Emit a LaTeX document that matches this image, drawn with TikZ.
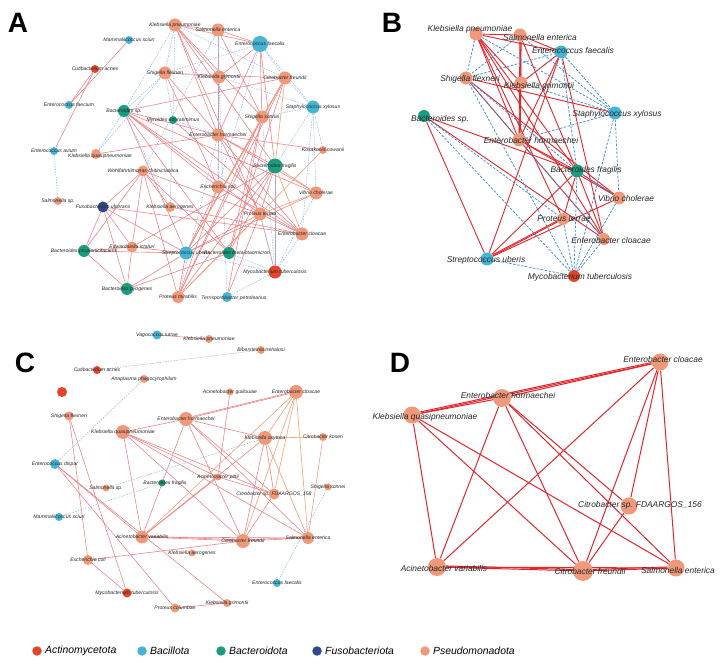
\documentclass[tikz,border=0pt]{standalone}
\usepackage{fontspec}
\setmainfont{Liberation Sans}
\definecolor{cPs}{HTML}{F0997A}
\definecolor{cBa}{HTML}{45B5D6}
\definecolor{cBt}{HTML}{1B9C7E}
\definecolor{cFu}{HTML}{2F4A8A}
\definecolor{cAc}{HTML}{E5442B}
\definecolor{eRed}{HTML}{E3262C}
\definecolor{eRedL}{HTML}{F07C80}
\definecolor{eBlue}{HTML}{3D8ED2}
\definecolor{eBlueL}{HTML}{93C0E6}
\definecolor{eOr}{HTML}{F2A078}
\definecolor{txt}{HTML}{262626}
\pgfdeclarelayer{bgl}
\pgfdeclarelayer{edges}
\pgfsetlayers{bgl,edges,main}
\tikzset{
 bug/.style={circle, inner sep=0pt, draw=none},
 lblS/.style={inner sep=0pt, text=txt, font=\fontsize{5.1}{6}\selectfont\itshape},
 lblL/.style={inner sep=0pt, text=txt, font=\fontsize{8.4}{10}\selectfont\itshape},
 lblG/.style={inner sep=0pt, anchor=west, text=black, font=\fontsize{10.4}{12}\selectfont\itshape},
 panel/.style={inner sep=0pt, font=\fontsize{28}{30}\selectfont\bfseries},
 redA/.style={draw=eRedL, line width=0.55pt},
 orA/.style={draw=eOr, line width=0.6pt},
 blueA/.style={draw=eBlueL, line width=0.55pt, dash pattern=on 1.5pt off 1.2pt},
 redB/.style={draw=eRed, line width=0.9pt},
 blueB/.style={draw=eBlue, line width=0.75pt, dash pattern=on 2.5pt off 1.5pt},
 redD/.style={draw=eRed, line width=1pt},
}
\begin{document}
\begin{tikzpicture}[x=1pt,y=-1pt]
\begin{pgfonlayer}{bgl}\fill[white] (0,0) rectangle (724,668);\end{pgfonlayer}
\useasboundingbox (0,0) rectangle (724,668);

% ---------------- panel letters
\node[panel] (pA) at (18,23) {A};
\node[panel] (pB) at (392,23) {B};
\node[panel] (pC) at (25,363) {C};
\node[panel] (pD) at (400,363) {D};

% ---------------- Panel A nodes
\foreach \nm/\px/\py/\dd/\col in {
 akp/175/25/13/cPs, ase/218/30/13/cPs, aef/260/44/16/cBa, ams/129/40/8/cBa,
 aca/95/69/8/cAc, asf/165/73/13/cPs, akg/219/77/13/cPs, acf/285/78/13/cPs,
 aefm/69/105/8/cBa, abs/124/111/12/cBt, amo/173/120/8/cBt, asx/313/107/13/cBa,
 ass/262/117/13/cPs, aeh/218/135/13/cPs, akc/323/150/8/cPs, aea/54/151/8/cBa,
 akq/96/154/10/cPs, abf/275/166/15/cBt, awc/143/171/11/cPs, avc/316/193/13/cPs,
 aec/218/187/13/cPs, assp/58/201/8/cPs, afu/103/207/11/cFu, aka/170/207/10/cPs,
 apt/260/214/13/cPs, aecl/302/234/13/cPs, aei/132/247/11/cPs, abp/84/251/12/cBt,
 asu/186/253/13/cBa, abt/229/253/12/cBt, amt/275/272/13/cAc, abpy/127/289/12/cBt,
 apm/178/297/12/cPs, atp/227/297/10/cBa}
 \node[bug, fill=\col, minimum size=\dd pt] (\nm) at (\px,\py) {};

% ---------------- Panel B nodes
\foreach \nm/\px/\py/\dd/\col in {
 bkp/476/34/13/cPs, bse/520/35/13/cPs, bef/561/52/13/cBa, bsf/466/78/13/cPs,
 bkg/521/83/13/cPs, bsx/615/113/13/cBa, bbs/424/116/12/cBt, beh/519/140/13/cPs,
 bbf/577/171/13/cBt, bvc/619/198/13/cPs, bpt/563/219/12/cPs, bec/604/239/12/cPs,
 bsu/487/259/13/cBa, bmt/574/276/12/cAc}
 \node[bug, fill=\col, minimum size=\dd pt] (\nm) at (\px,\py) {};

% ---------------- Panel C nodes
\foreach \nm/\px/\py/\dd/\col in {
 cvl/157/335/9/cBa, ckp/209/339/8/cPs, cbt/261/350/8/cPs, cca/97/370/8/cAc,
 cap/144/379/8/cPs, cred/62/392/10/cAc, csf/69/416/9/cPs, ckq/123/432/14/cPs,
 ced/55/464/10/cBa, cag/230/392/7/cPs, cecl/296/392/14/cPs, ceh/186/419/14/cPs,
 cko/265/438/14/cPs, cck/323/437/8/cPs, capi/218/477/7/cPs, cbf/162/483/7/cBt,
 cssp/106/488/7/cPs, cms/59/517/8/cBa, cav/142/537/13/cPs, cec/88/560/10/cPs,
 cmt/127/593/9/cAc, cpc/175/608/9/cPs, ccs/274/494/11/cPs, css/328/487/7/cPs,
 ccf/243/541/14/cPs, cse/308/538/12/cPs, cka/192/553/7/cPs, cef/277/583/8/cBa,
 ckg/227/603/8/cPs}
 \node[bug, fill=\col, minimum size=\dd pt] (\nm) at (\px,\py) {};

% ---------------- Panel D nodes
\foreach \nm/\px/\py/\dd/\col in {
 dec/660/362/17/cPs, deh/502/398/18/cPs, dkq/412/415/17/cPs, dcs/629/506/17/cPs,
 dav/437/567/18/cPs, dcf/583/571/20/cPs, dse/676/568/17/cPs}
 \node[bug, fill=\col, minimum size=\dd pt] (\nm) at (\px,\py) {};

% ---------------- Edges
\begin{pgfonlayer}{edges}
% A red
\foreach \a/\b in {ams/aefm, aca/aefm, aca/aea,
 abs/acf, abs/aeh, abs/aec, abs/apt, abs/aecl, abs/asu, abs/abt, abs/avc,
 akq/aeh, akp/ase, akp/aef, akp/akg, akp/aeh, akp/ass, akp/abf, akp/apt,
 ase/akg, ase/aef, ase/aeh, ase/ass, aef/akg, aef/aeh, aef/ass, aef/abf,
 asf/acf, asf/aeh, asf/aec, akg/aeh, akg/aec, acf/asu, acf/abt, acf/apm,
 ass/asu, ass/abt, ass/apm, ass/atp, aeh/akc, aeh/abf, aeh/apt, aeh/aecl, aeh/avc,
 awc/afu, awc/abp, awc/aei, awc/aka, awc/apt, awc/apm, awc/abt,
 afu/abp, afu/aei, afu/abpy, afu/asu, afu/aecl,
 abp/aei, abp/abpy, abp/asu, aei/abpy, aei/asu, aei/abf, abpy/abt, abpy/asu,
 abf/amt, abf/apt, abf/asu, abf/apm, abf/abt,
 avc/asu, apt/asu, apt/aecl, apt/apm, amt/apt,
 aecl/aka, asu/apm, atp/apt, aec/apm, aec/asu, aec/aecl, amo/aecl}
 \draw[redA] (\a) -- (\b);
\foreach \a/\b in {acf/ass, abf/avc, abf/aecl, akc/apm, acf/abf, avc/apt, acf/asu}
 \draw[orA] (\a) -- (\b);
\foreach \a/\b in {akp/asf, akp/abs, akp/amo, akp/acf, asf/abs, asf/aef, asf/akg,
 akg/asx, aef/asx, aef/acf, acf/asx, asx/ass, asx/akc, asx/avc, asx/aecl, aea/assp,
 aeh/amo, abs/akq, akq/asf, abf/amt, aecl/amt, avc/amt, abt/amt, asu/amt, apt/amt,
 ase/aec, amo/aka, awc/ase, akg/atp, ass/amt, asx/abf, aef/aec, abs/aka, aeh/apm,
 asf/amo, atp/amt}
 \draw[blueA] (\a) -- (\b);

% B
\foreach \a/\b in {bkp/bse, bkp/bef, bkp/bkg, bkp/beh, bkp/bbf, bkp/bec, bkp/bpt,
 bse/bef, bse/bkg, bse/beh, bse/bbf, bef/bkg, bef/beh, bef/bec, bef/bsu,
 bsf/bsx, bsf/beh, bsf/bvc, bbs/bsu, bbs/bec, bbs/bbf,
 beh/bbf, beh/bvc, beh/bec, bbf/bsu, bbf/bpt, bbf/bvc, bbf/bec,
 bpt/bsu, bvc/bsu, bkg/beh}
 \draw[redB] (\a) -- (\b);
\draw[redB, transform canvas={yshift=1.2pt}] (bpt) -- (bsu);
\draw[redB, transform canvas={xshift=1.2pt}] (bse) -- (beh);
\foreach \a/\b in {bkp/bsf, bkp/bsx, bse/bsf, bsf/bef, bsf/bbf, bsf/bmt, bsf/bec,
 bef/bsx, bse/bsx, bsx/beh, bsx/bmt, bsx/bvc, bbs/bmt, bbs/bpt,
 bsu/bmt, bbf/bmt, bpt/bmt, bec/bmt, bvc/bmt, bbf/bvc, bkg/bsx, bef/bbf}
 \draw[blueB] (\a) -- (\b);

% C
\foreach \a/\b in {cvl/ckp, csf/cmt, csf/cec, ced/cav, ced/cpc, ced/ckg,
 cec/cmt, cec/ccf, ckq/ceh, ckq/cav, ckq/ccf, ckq/cse, ckq/ccs,
 ceh/cecl, ceh/cko, ceh/cav, ceh/ccf, ceh/cse, ceh/ccs, cag/capi,
 cko/ccf, cko/ccs, cko/cav, cav/ccf, cav/cse, ccf/cse, ccs/ccf, capi/cav, capi/ccs,
 cpc/ckg, ckq/capi}
 \draw[redA] (\a) -- (\b);
\draw[redA, transform canvas={yshift=1pt}] (ceh) -- (cecl);
\draw[redA, transform canvas={yshift=1pt}] (cav) -- (ccf);
\draw[redA, transform canvas={yshift=1pt}] (ccf) -- (cse);
\foreach \a/\b in {cecl/cko, cecl/ccs, cecl/cse, cecl/cav, cecl/ccf, cko/cck, cck/cse, cko/cse}
 \draw[orA] (\a) -- (\b);
\foreach \a/\b in {cca/cbt, cap/ced, cko/cssp, cbf/cms, css/cef}
 \draw[blueA] (\a) -- (\b);

% D
\foreach \a/\b in {dkq/deh, deh/dec, dkq/dec, dkq/dav, dkq/dcf, dkq/dse,
 deh/dav, deh/dcf, deh/dcs, deh/dse, dec/dav, dec/dcs, dec/dcf, dec/dse,
 dcs/dcf, dav/dcf, dav/dse, dcf/dse}
 \draw[redD] (\a) -- (\b);
\draw[redD, transform canvas={yshift=1.3pt}] (dkq) -- (dec);
\draw[redD, transform canvas={yshift=1.3pt}] (dav) -- (dcf);
\draw[redD, transform canvas={yshift=1.3pt}] (dcf) -- (dse);
\end{pgfonlayer}

% ---------------- Labels A
\foreach \nm/\tx in {akp/Klebsiella pneumoniae, ase/Salmonella enterica,
 aef/Enterococcus faecalis, ams/Mammaliicoccus sciuri, aca/Cutibacterium acnes,
 asf/Shigella flexneri, akg/Klebsiella grimontii, acf/Citrobacter freundii,
 aefm/Enterococcus faecium, abs/Bacteroides sp., amo/Myroides odoratimimus,
 asx/Staphylococcus xylosus, ass/Shigella sonnei, aeh/Enterobacter hormaechei,
 akc/Kosakonia cowanii, aea/Enterococcus avium,
 abf/Bacteroides fragilis, awc/Wohlfahrtiimonas chitiniclastica, avc/Vibrio cholerae,
 aec/Escherichia coli, assp/Salmonella sp., afu/Fusobacterium ulcerans,
 aka/Klebsiella aerogenes, apt/Proteus terrae, aecl/Enterobacter cloacae,
 aei/Edwardsiella ictaluri, abp/Bacteroides propionicifaciens, asu/Streptococcus uberis,
 amt/Mycobacterium tuberculosis,
 abpy/Bacteroides pyogenes, apm/Proteus mirabilis}
 \node[lblS] (\nm-t) at (\nm) {\tx};
\node[lblS] (akq-t) at (100,156) {Klebsiella quasipneumoniae};
\node[lblS] (abt-t) at (237,253) {Bacteroides thetaiotaomicron};
\node[lblS] (atp-t) at (234,298) {Terrisporobacter petrolearius};

% ---------------- Labels B
\foreach \nm/\px/\py/\tx in {bkp/470/29/Klebsiella pneumoniae, bse/540/38/Salmonella enterica,
 bef/573/51/Enterococcus faecalis, bsf/470/79/Shigella flexneri,
 bkg/539/86/Klebsiella grimontii, bsx/617/114/Staphylococcus xylosus,
 bbs/440/119/Bacteroides sp., beh/531/141/Enterobacter hormaechei,
 bbf/586/170/Bacteroides fragilis, bvc/626/199/Vibrio cholerae,
 bpt/564/219/Proteus terrae, bec/611/240/Enterobacter cloacae,
 bsu/486/260/Streptococcus uberis, bmt/580/277/Mycobacterium tuberculosis}
 \node[lblL] (\nm-t) at (\px,\py) {\tx};

% ---------------- Labels C
\foreach \nm/\tx in {cvl/Vagococcus lutrae, ckp/Klebsiella pneumoniae,
 cbt/Bibersteinia trehalosi, cca/Cutibacterium acnes, cap/Anaplasma phagocytophilum,
 csf/Shigella flexneri, ckq/Klebsiella quasipneumoniae, ced/Enterococcus dispar,
 cag/Acinetobacter guillouiae, cecl/Enterobacter cloacae, ceh/Enterobacter hormaechei,
 cko/Klebsiella oxytoca, cck/Citrobacter koseri, capi/Acinetobacter pittii,
 cssp/Salmonella sp., cms/Mammaliicoccus sciuri,
 cav/Acinetobacter variabilis, cec/Escherichia coli, cmt/Mycobacterium tuberculosis,
 cpc/Proteus columbae, ccs/Citrobacter sp. FDAARGOS\_158, css/Shigella sonnei,
 ccf/Citrobacter freundii, cse/Salmonella enterica, cka/Klebsiella aerogenes,
 cef/Enterococcus faecalis, ckg/Klebsiella grimontii}
 \node[lblS] (\nm-t) at (\nm) {\tx};
\node[lblS] (cbf-t) at (165,483) {Bacteroides fragilis};

% ---------------- Labels D
\foreach \nm/\px/\py/\tx in {dec/663/359/Enterobacter cloacae,
 deh/508/395/Enterobacter hormaechei, dkq/425/417/Klebsiella quasipneumoniae,
 dcs/640/505/Citrobacter sp. FDAARGOS\_156, dav/444/568/Acinetobacter variabilis,
 dcf/590/572/Citrobacter freundii, dse/678/570/Salmonella enterica}
 \node[lblL] (\nm-t) at (\px,\py) {\tx};

% ---------------- Legend
\foreach \nm/\px/\col/\tx in {lg1/37/cAc/Actinomycetota, lg2/142/cBa/Bacillota,
 lg3/221/cBt/Bacteroidota, lg4/317/cFu/Fusobacteriota, lg5/425/cPs/Pseudomonadota}
 {\node[bug, fill=\col, minimum width=8pt, minimum height=9.5pt, ellipse/.try] (\nm) at (\px,651) {};
  \node[lblG] (\nm-t) at (\px+8,651) {\tx};}
\end{tikzpicture}
\end{document}
